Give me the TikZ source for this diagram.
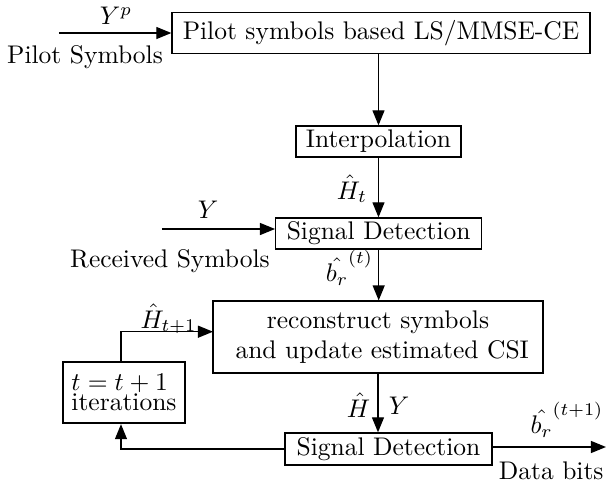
\documentclass[tikz,border=0pt]{standalone}
\usetikzlibrary{arrows.meta}
\begin{document}
\begin{tikzpicture}[x=0.39216pt,y=-0.39216pt,
  every node/.style={font=\fontsize{10}{11.76}\selectfont},
  blk/.style={draw, line width=0.51pt, inner sep=0pt, align=center},
  arr/.style={line width=0.51pt, -{Triangle[length=5.9pt,width=4.7pt]}},
  lbl/.style={inner sep=0pt}]
\useasboundingbox (0,0) rectangle (607,482);
% blocks
\node[blk, minimum width=163.9pt, minimum height=15.9pt] (box1) at (381,33) {Pilot symbols based LS/MMSE-CE};
\node[blk, minimum width=64.7pt, minimum height=12.16pt] (interp) at (378.5,141.5) {Interpolation};
\node[blk, minimum width=80.8pt, minimum height=12.16pt] (sd1) at (378.7,233.5) {Signal Detection};
\node[blk, minimum width=129.4pt, minimum height=28.2pt] (recon) at (378,337) {reconstruct symbols\\ \ and update estimated CSI};
\node[blk, minimum width=81.2pt, minimum height=12.55pt] (sd2) at (388.5,449) {Signal Detection};
\node[blk, line width=0.94pt, minimum width=47.8pt, minimum height=23.9pt, align=left, font=\fontsize{10}{8.04}\selectfont] (iter) at (124,392.5) {$t=t+1$\\iterations};
% coordinates
\coordinate (pin) at (59,33);
\coordinate (rsin) at (162,229);
\coordinate (rin) at (213,331.7);
\coordinate (out) at (606,447);
% connectors
\draw[arr] (pin) -- (box1.west);
\draw[arr] (interp.north |- box1.south) -- (interp.north);
\draw[arr] (interp.south) -- (interp.south |- sd1.north);
\draw[arr] (rsin) -- (rsin -| sd1.west);
\draw[arr] (sd1.south) -- (sd1.south |- recon.north);
\draw[arr] (recon.south) -- (recon.south |- sd2.north);
\draw[arr] (sd2.east |- out) -- (out);
\draw[arr] (sd2.west) -| ([xshift=-1.18pt]iter.south);
\draw[arr] ([xshift=-1.18pt]iter.north) |- (rin);
% labels
\node[lbl] (lyp) at (116,16) {$Y^p$};
\node[lbl] (lps) at (85,57) {Pilot Symbols};
\node[lbl] (lht) at (352,189) {$\hat{H}_t$};
\node[lbl] (ly) at (208,210) {$Y$};
\node[lbl] (lrs) at (170,261) {Received Symbols};
\node[lbl] (lbt) at (349.5,268) {$\hat{b_r}^{(t)}$};
\node[lbl] (lht1) at (168.5,319) {$\hat{H}_{t+1}$};
\node[lbl] (lh) at (358.5,405) {$\hat{H}$};
\node[lbl] (ly2) at (399,406) {$Y$};
\node[lbl] (lbt1) at (567,420) {$\hat{b_r}^{(t+1)}$};
\node[lbl, anchor=base east] (ldb) at (604,479) {Data bits};
\end{tikzpicture}
\end{document}
